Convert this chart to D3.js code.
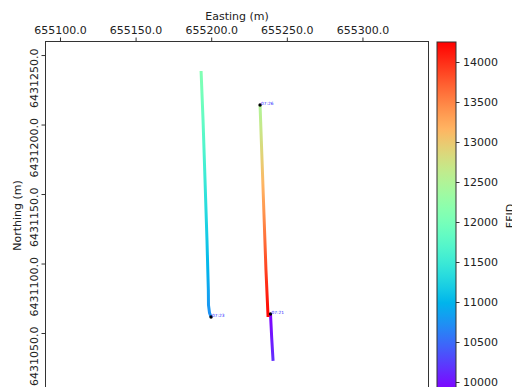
<!DOCTYPE html>
<html>
<head>
<meta charset="utf-8">
<script src="https://cdn.jsdelivr.net/npm/d3@7"></script>
<style>
  html, body { margin: 0; padding: 0; background: #fff; }
  svg { display: block; font-family: "DejaVu Sans", sans-serif; }
</style>
</head>
<body>
<svg id="chart" width="512" height="387"></svg>
<script>
// Shot tracks: easting / northing in metres, FFID per recorded point
const line1Easting  = [655239.2, 655240.0, 655240.9];
const line1Northing = [6431063.7, 6431046.4, 6431029.9];
const line1Ffid     = [9900, 10030, 10160];
const line1Time     = "07:21";

const line2Easting  = [655199.9, 655198.9, 655198.2, 655198.1, 655197.2, 655195.9, 655194.6, 655193.3];
const line2Northing = [6431061.5, 6431064.4, 6431070.1, 6431080.9, 6431116.9, 6431160.1, 6431203.2, 6431238.5];
const line2Ffid     = [10720, 10740, 10790, 10870, 11150, 11490, 11830, 12100];
const line2Time     = "07:23";

const line3Easting  = [655232.3, 655233.6, 655234.9, 655236.2, 655237.6];
const line3Northing = [6431214.0, 6431174.5, 6431134.9, 6431095.3, 6431061.5];
const line3Ffid     = [12480, 12950, 13420, 13890, 14250];
const line3Time     = "07:26";

const xTicks = [655100, 655150, 655200, 655250, 655300];
const yTicks = [6431050, 6431100, 6431150, 6431200, 6431250];
const cbTicks = [10000, 10500, 11000, 11500, 12000, 12500, 13000, 13500, 14000];
const ffidMin = 9900, ffidMax = 14250;

const lines = [
  {e: line1Easting, n: line1Northing, f: line1Ffid, t: line1Time},
  {e: line2Easting, n: line2Northing, f: line2Ffid, t: line2Time},
  {e: line3Easting, n: line3Northing, f: line3Ffid, t: line3Time}
];

// matplotlib "rainbow" colormap
function rainbow(t) {
  t = Math.max(0, Math.min(1, t));
  const c = v => Math.round(255 * Math.max(0, Math.min(1, v)));
  return `rgb(${c(Math.abs(2 * t - 0.5))},${c(Math.sin(Math.PI * t))},${c(Math.cos(Math.PI * t / 2))})`;
}
const norm = d3.scaleLinear().domain([ffidMin, ffidMax]).range([0, 1]);
const colorOf = v => rainbow(norm(v));

const plot = {left: 45, right: 429, top: 41, bottom: 390};
const x = d3.scaleLinear().domain([655090.1, 655344.0]).range([plot.left, plot.right]);
const y = d3.scaleLinear().domain([6431009.0, 6431260.1]).range([plot.bottom, plot.top]);

const svg = d3.select("#chart");
const defs = svg.append("defs");
defs.append("clipPath").attr("id", "plotClip")
  .append("rect").attr("x", plot.left).attr("y", plot.top)
  .attr("width", plot.right - plot.left).attr("height", plot.bottom - plot.top);

// Tracks, each stroked with a gradient that follows its FFID values
const trackG = svg.append("g").attr("clip-path", "url(#plotClip)");
lines.forEach((ln, i) => {
  const pts = ln.e.map((e, k) => ({px: x(e), py: y(ln.n[k]), f: ln.f[k]}));
  const a = pts[0], b = pts[pts.length - 1];
  const dx = b.px - a.px, dy = b.py - a.py, L2 = dx * dx + dy * dy;
  const grad = defs.append("linearGradient").attr("id", "trk" + i)
    .attr("gradientUnits", "userSpaceOnUse")
    .attr("x1", a.px).attr("y1", a.py).attr("x2", b.px).attr("y2", b.py);
  const proj = p => ((p.px - a.px) * dx + (p.py - a.py) * dy) / L2;
  for (let k = 0; k < pts.length; k++) {
    const p = pts[k];
    if (k > 0) {
      const q = pts[k - 1];
      for (let s = 1; s < 8; s++) {
        const u = s / 8;
        grad.append("stop")
          .attr("offset", proj(q) + (proj(p) - proj(q)) * u)
          .attr("stop-color", colorOf(q.f + (p.f - q.f) * u));
      }
    }
    grad.append("stop").attr("offset", proj(p)).attr("stop-color", colorOf(p.f));
  }
  trackG.append("path")
    .attr("d", d3.line().x(p => p.px).y(p => p.py)(pts))
    .attr("fill", "none")
    .attr("stroke", `url(#trk${i})`)
    .attr("stroke-width", 3)
    .attr("stroke-linejoin", "round");
});

// Start markers with start times
lines.forEach(ln => {
  const sx = x(ln.e[0]), sy = y(ln.n[0]);
  trackG.append("circle").attr("cx", sx).attr("cy", sy).attr("r", 1.7).attr("fill", "#000");
  trackG.append("text").attr("x", sx + 1).attr("y", sy)
    .attr("font-size", 4.3).attr("fill", "#2020ff").text(ln.t);
});

// Frame
svg.append("rect")
  .attr("x", plot.left + 0.5).attr("y", plot.top + 0.5)
  .attr("width", plot.right - plot.left - 1).attr("height", plot.bottom - plot.top)
  .attr("fill", "none").attr("stroke", "#333").attr("stroke-width", 1);

// Easting axis on top
const xAxis = svg.append("g").attr("transform", `translate(0,${plot.top})`)
  .call(d3.axisTop(x).tickValues(xTicks).tickFormat(d => d.toFixed(1)).tickSize(3.5).tickPadding(3.5));
xAxis.select(".domain").remove();
xAxis.selectAll("line").attr("stroke", "#333");
xAxis.selectAll("text").attr("font-size", 11).attr("fill", "#222").attr("font-family", "DejaVu Sans");

svg.append("text").attr("x", (plot.left + plot.right) / 2).attr("y", 19.5)
  .attr("text-anchor", "middle").attr("font-size", 11).attr("fill", "#222").text("Easting (m)");

// Northing axis with rotated labels
const yAxis = svg.append("g").attr("transform", `translate(${plot.left},0)`)
  .call(d3.axisLeft(y).tickValues(yTicks).tickFormat(d => d.toFixed(1)).tickSize(3.5));
yAxis.select(".domain").remove();
yAxis.selectAll("line").attr("stroke", "#333");
yAxis.selectAll("text")
  .attr("x", 0).attr("dy", null)
  .attr("transform", "translate(-7,-7) rotate(-90)")
  .attr("text-anchor", "end")
  .attr("font-size", 11).attr("fill", "#222").attr("font-family", "DejaVu Sans");

svg.append("text")
  .attr("transform", `translate(20.5,${(plot.top + plot.bottom) / 2}) rotate(-90)`)
  .attr("text-anchor", "middle").attr("font-size", 11).attr("fill", "#222").text("Northing (m)");

// Colour bar
const cb = {left: 437, right: 456};
const cbScale = d3.scaleLinear().domain([ffidMin, ffidMax]).range([plot.bottom, 42]);
const cbGrad = defs.append("linearGradient").attr("id", "cbGrad")
  .attr("x1", 0).attr("y1", 1).attr("x2", 0).attr("y2", 0);
d3.range(0, 1.0001, 1 / 64).forEach(t => {
  cbGrad.append("stop").attr("offset", t).attr("stop-color", rainbow(t));
});
svg.append("rect")
  .attr("x", cb.left).attr("y", cbScale(ffidMax))
  .attr("width", cb.right - cb.left).attr("height", cbScale(ffidMin) - cbScale(ffidMax))
  .attr("fill", "url(#cbGrad)").attr("stroke", "#333").attr("stroke-width", 1);

const cbAxis = svg.append("g").attr("transform", `translate(${cb.right},0)`)
  .call(d3.axisRight(cbScale).tickValues(cbTicks).tickFormat(d3.format("d")).tickSize(3.5).tickPadding(3.5));
cbAxis.select(".domain").remove();
cbAxis.selectAll("line").attr("stroke", "#333");
cbAxis.selectAll("text").attr("font-size", 11).attr("fill", "#222").attr("font-family", "DejaVu Sans");

svg.append("text")
  .attr("transform", `translate(513.5,${(cbScale(ffidMin) + cbScale(ffidMax)) / 2}) rotate(-90)`)
  .attr("text-anchor", "middle").attr("font-size", 11).attr("fill", "#222").text("FFID");
</script>
</body>
</html>
